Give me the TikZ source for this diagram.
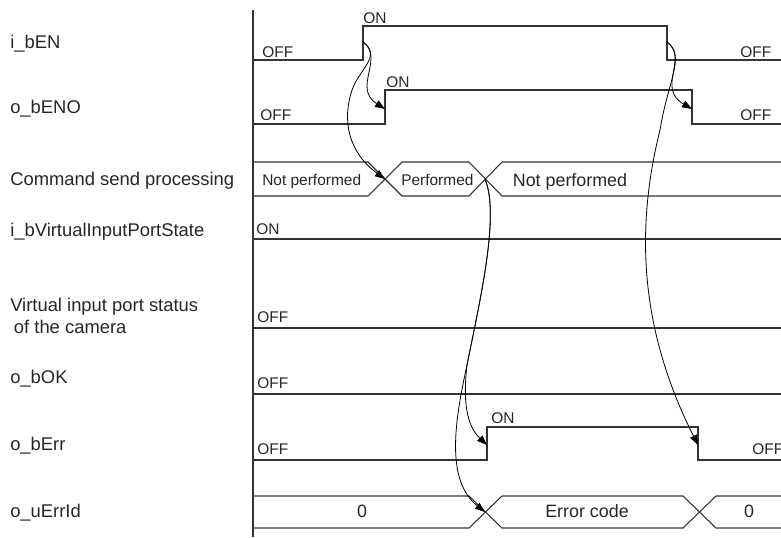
\documentclass[tikz,border=0pt]{standalone}
\usepackage{fontspec}
\setmainfont{Liberation Sans}
\usetikzlibrary{arrows.meta}

\begin{document}
\begin{tikzpicture}[
  x=0.75pt, y=-0.75pt,
  wave/.style={draw=black!80, line width=0.8pt},
  sig/.style={anchor=base west, inner sep=0pt, align=left,
              font=\fontsize{13.8}{15.8}\selectfont, text=black!85},
  lvl/.style={anchor=base west, inner sep=0pt, font=\fontsize{11.6}{13}\selectfont, text=black!85},
  val/.style={anchor=base, inner sep=0pt, font=\fontsize{13.4}{15}\selectfont, text=black!85},
  arr/.style={-{Triangle[length=7.5pt, width=5.5pt]}, line width=0.6pt},
]
\useasboundingbox (0,0) rectangle (781,537);

% signal names
\node[sig] (nEN)  at (10,48)  {i\_bEN};
\node[sig] (nENO) at (10,113) {o\_bENO};
\node[sig] (nCmd) at (10,185) {Command send processing};
\node[sig] (nVIP) at (10,236) {i\_bVirtualInputPortState};
\node[sig] (nVPS) at (10,333) {Virtual input port status\\\hspace*{0.2em}of the camera};
\node[sig] (nOK)  at (10,383) {o\_bOK};
\node[sig] (nErr) at (10,450) {o\_bErr};
\node[sig] (nId)  at (10,517) {o\_uErrId};

% edges the arrows start from and point to
\coordinate (enRise)  at (363,42);
\coordinate (enFall)  at (667,42);
\coordinate (enoRise) at (385,109);
\coordinate (enoFall) at (692,109);
\coordinate (cmdA)    at (385,179);
\coordinate (cmdB)    at (485,179);
\coordinate (errRise) at (487,445);
\coordinate (errFall) at (698,445);
\coordinate (idA)     at (485,512);

\draw[wave] (253,10) -- (253,537);

% i_bEN and o_bENO
\draw[wave] (253,60) -- (363,60) -- (363,26) -- (667,26) -- (667,60) -- (781,60);
\node[lvl] (enOffA) at (262,57) {OFF};
\node[lvl] (enOn)   at (363,23) {ON};
\node[lvl] (enOffB) at (740,57) {OFF};

\draw[wave] (253,124) -- (385,124) -- (385,90) -- (692,90) -- (692,124) -- (781,124);
\node[lvl] (enoOffA) at (260,120) {OFF};
\node[lvl] (enoOn)   at (386,87)  {ON};
\node[lvl] (enoOffB) at (740,120) {OFF};

% command send processing
\draw[wave] (253,162) -- (368,162) -- (402,196) -- (469,196) -- (502,162) -- (781,162);
\draw[wave] (253,196) -- (368,196) -- (402,162) -- (469,162) -- (502,196) -- (781,196);
\node[lvl] (cmdNo)  at (262,185) {Not performed};
\node[lvl] (cmdYes) at (401,185) {Performed};
\node[val] (cmdEnd) at (570,186) {Not performed};

% virtual input port, o_bOK
\draw[wave] (253,239) -- (781,239);
\node[lvl] (vipOn) at (256,234) {ON};
\draw[wave] (253,328) -- (781,328);
\node[lvl] (vpsOff) at (257,322) {OFF};
\draw[wave] (253,394) -- (781,394);
\node[lvl] (okOff) at (257,388) {OFF};

% o_bErr and o_uErrId
\draw[wave] (253,460) -- (487,460) -- (487,427) -- (698,427) -- (698,460) -- (781,460);
\node[lvl] (errOffA) at (257,454) {OFF};
\node[lvl] (errOn)   at (491,423) {ON};
\node[lvl] (errOffB) at (752,454) {OFF};

\draw[wave] (253,496) -- (469,496) -- (502,528) -- (683,528) -- (716,496) -- (781,496);
\draw[wave] (253,528) -- (469,528) -- (502,496) -- (683,496) -- (716,528) -- (781,528);
\node[val] (idZeroA) at (362,517) {0};
\node[val] (idCode)  at (587,517) {Error code};
\node[val] (idZeroB) at (749,517) {0};

\draw[arr] (enRise) .. controls (385,58) and (352,88) .. (enoRise);
\draw[arr] (enRise) .. controls (382,56) and (360,68) .. (352,90)
  .. controls (342,120) and (348,152) .. (cmdA);
\draw[arr] (enFall) .. controls (689,58) and (656,88) .. (enoFall);
\draw[arr] (enFall) .. controls (686,56) and (668,80) .. (660,130)
  .. controls (635,230) and (640,330) .. (errFall);
\draw[arr] (cmdB) .. controls (500,215) and (480,300) .. (467,365)
  .. controls (463,400) and (466,425) .. (errRise);
\draw[arr] (cmdB) .. controls (500,215) and (480,300) .. (467,365)
  .. controls (455,420) and (445,480) .. (idA);

\end{tikzpicture}
\end{document}
